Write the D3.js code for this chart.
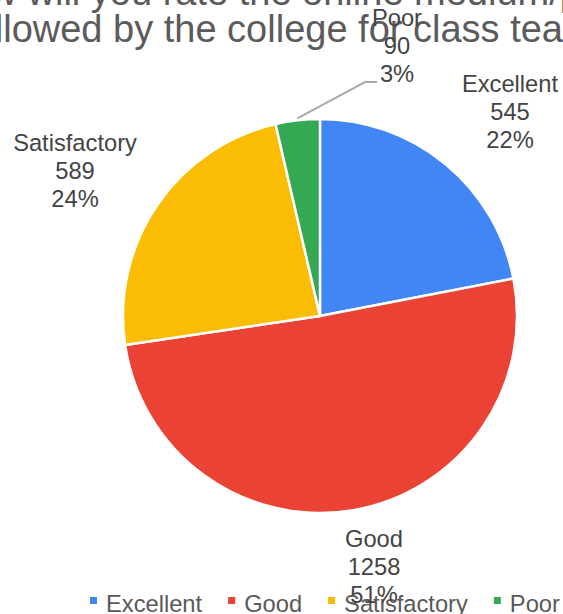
<!DOCTYPE html>
<html>
<head>
<meta charset="utf-8">
<script src="https://cdn.jsdelivr.net/npm/d3@7"></script>
<style>
  html, body { margin: 0; padding: 0; background: #fff; overflow: hidden; }
  svg { display: block; }
</style>
</head>
<body>
<svg id="chart" width="563" height="614"></svg>
<script>
const titleLines = ["How will you rate the online medium/platform", "followed by the college for class teaching?"];
const categories = ["Excellent", "Good", "Satisfactory", "Poor"];
const values = [545, 1258, 589, 90];
const percentLabels = ["22%", "51%", "24%", "3%"];
const colors = ["#4285F4", "#EA4335", "#FBBC04", "#34A853"];

const W = 563, H = 614;
const cx = 320, cy = 316, R = 197;
const font = "Arial, 'Liberation Sans', sans-serif";

const svg = d3.select("#chart");

// Title (overflows the frame as in the reference)
const titleX = 319;
const title = svg.append("text")
  .attr("x", titleX).attr("text-anchor", "middle")
  .attr("font-family", font).attr("font-size", 38).attr("fill", "#5b5b5b");
const titleY = [5, 42];
titleLines.forEach((t, i) => {
  title.append("tspan").attr("x", titleX).attr("y", titleY[i]).text(t);
});

// Pie
const pie = d3.pie().sort(null).value(d => d.value);
const data = categories.map((c, i) => ({ cat: c, value: values[i], pct: percentLabels[i], color: colors[i] }));
const arcs = pie(data);
const arc = d3.arc().innerRadius(0).outerRadius(R);

const g = svg.append("g").attr("transform", `translate(${cx},${cy})`);
g.selectAll("path").data(arcs).enter().append("path")
  .attr("d", arc)
  .attr("fill", d => d.data.color)
  .attr("stroke", "#fff").attr("stroke-width", 2.5).attr("stroke-linejoin", "round");

// Label positions (center x, first baseline y)
const labelPos = {
  "Excellent": [510, 92],
  "Good": [374, 547],
  "Satisfactory": [75, 151],
  "Poor": [397, 26]
};

// Leader line for Poor
const poorArc = arcs[3];
const midA = (poorArc.startAngle + poorArc.endAngle) / 2;
const p0 = [cx + (R + 2) * Math.sin(midA), cy - (R + 2) * Math.cos(midA)];
svg.append("polyline")
  .attr("points", [p0, [365, 82], [377, 82]].map(p => p.join(",")).join(" "))
  .attr("fill", "none").attr("stroke", "#aaaaaa").attr("stroke-width", 2);

// Legend
const legend = svg.append("g");
let lx = 90;
const ly = 612;
data.forEach((d, i) => {
  legend.append("rect").attr("x", lx).attr("y", 597).attr("width", 7).attr("height", 7).attr("fill", d.color);
  const t = legend.append("text").attr("x", lx + 16).attr("y", ly)
    .attr("font-family", font).attr("font-size", 23.7).attr("fill", "#595959").text(d.cat);
  lx = lx + 16 + t.node().getComputedTextLength() + 26;
});

// Slice labels
arcs.forEach(a => {
  const [x, y] = labelPos[a.data.cat];
  const t = svg.append("text").attr("text-anchor", "middle")
    .attr("font-family", font).attr("font-size", 23.7).attr("fill", "#444444");
  [a.data.cat, String(a.data.value), a.data.pct].forEach((s, i) => {
    t.append("tspan").attr("x", x).attr("y", y + i * 27.8).text(s);
  });
});
</script>
</body>
</html>
